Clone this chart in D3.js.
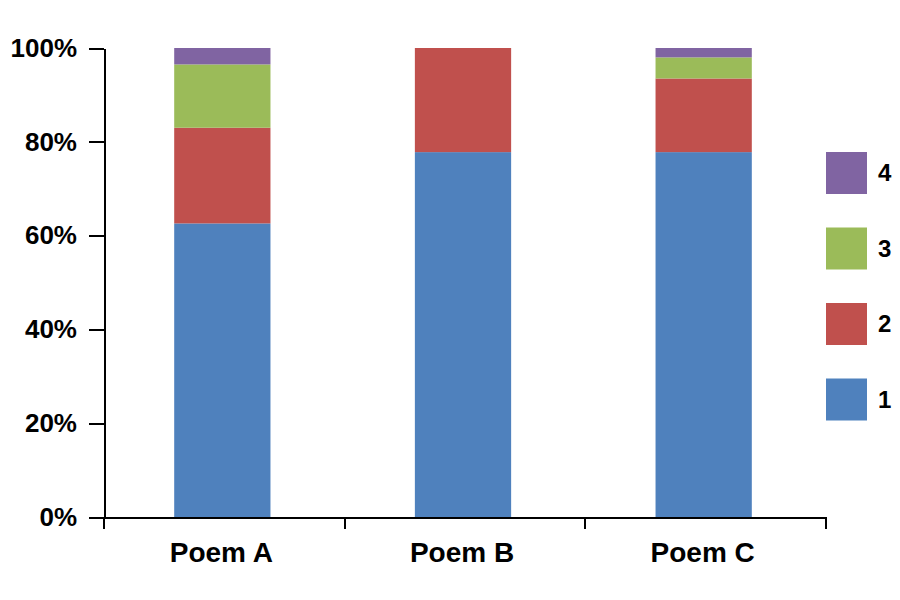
<!DOCTYPE html>
<html lang="en">
<head>
	<meta charset="UTF-8">
	<title>Poems</title>
	<style>
		body { margin: 0; background: #fff; }
		text { font-family: "Liberation Sans", Arial, sans-serif; font-weight: bold; fill: #000; }
		.axis path, .axis line { stroke: #000; stroke-width: 2px; shape-rendering: crispEdges; }
	</style>
	<script src="https://cdn.jsdelivr.net/npm/d3@7"></script>
</head>
<body>
	<div class="wrap"></div>
	<script>
	// data (percent of each poem)
	var poems = ["Poem A", "Poem B", "Poem C"];
	var keys = ["1", "2", "3", "4"];
	var share1 = [62.6, 77.8, 77.8];
	var share2 = [20.4, 22.2, 15.7];
	var share3 = [13.5, 0, 4.5];
	var share4 = [3.5, 0, 2.0];
	var yTicks = [0, 20, 40, 60, 80, 100];
	var colors = ["#4F81BD", "#C0504D", "#9BBB59", "#8064A2"];

	var width = 900, height = 600;
	var plotLeft = 104, plotRight = 826, plotTop = 48, plotBottom = 517;

	var rows = poems.map(function(p, i) {
		return { poem: p, "1": share1[i], "2": share2[i], "3": share3[i], "4": share4[i] };
	});

	var x = d3.scaleBand().domain(poems).range([plotLeft, plotRight]).padding(0);
	var y = d3.scaleLinear().domain([0, 100]).range([plotBottom, plotTop]);
	var color = d3.scaleOrdinal().domain(keys).range(colors);

	var svg = d3.select(".wrap").append("svg")
		.attr("width", width)
		.attr("height", height);

	var series = d3.stack().keys(keys)(rows);
	var barW = x.bandwidth() * 0.4;

	// bars
	svg.append("g").selectAll("g").data(series).enter().append("g")
		.attr("fill", function(d) { return color(d.key); })
		.selectAll("rect").data(function(d) { return d; }).enter().append("rect")
		.attr("x", function(d) { return x(d.data.poem) + (x.bandwidth() - barW) / 2 - 2; })
		.attr("width", barW)
		.attr("y", function(d) { return y(d[1]); })
		.attr("height", function(d) { return y(d[0]) - y(d[1]); });

	// Y axis
	var yAxis = svg.append("g")
		.attr("class", "axis")
		.attr("transform", "translate(" + plotLeft + ",0)")
		.call(d3.axisLeft(y).tickValues(yTicks)
			.tickFormat(function(d) { return d + "%"; })
			.tickSize(15).tickSizeOuter(0).tickPadding(12));
	yAxis.selectAll("text").style("font-size", "26px");

	// X axis: labels in band centres, ticks on band edges
	var xAxis = svg.append("g")
		.attr("class", "axis")
		.attr("transform", "translate(0," + plotBottom + ")")
		.call(d3.axisBottom(x).tickSize(0).tickSizeOuter(0).tickPadding(25));
	xAxis.selectAll("text").style("font-size", "28px").attr("dx", -3);

	var edges = poems.map(function(p) { return x(p); }).concat([plotRight]);
	xAxis.selectAll("line.edge").data(edges).enter().append("line")
		.attr("class", "edge")
		.attr("x1", function(d) { return d; })
		.attr("x2", function(d) { return d; })
		.attr("y1", 0)
		.attr("y2", 12);

	// legend
	var legend = svg.append("g").attr("transform", "translate(826,152)");
	var item = legend.selectAll("g").data(keys.slice().reverse()).enter().append("g")
		.attr("transform", function(d, i) { return "translate(0," + (i * 75.5) + ")"; });
	item.append("rect")
		.attr("width", 41)
		.attr("height", 42)
		.attr("fill", function(d) { return color(d); });
	item.append("text")
		.attr("x", 52)
		.attr("y", 21)
		.attr("dy", "0.35em")
		.style("font-size", "24px")
		.text(function(d) { return d; });
	</script>
</body>
</html>
